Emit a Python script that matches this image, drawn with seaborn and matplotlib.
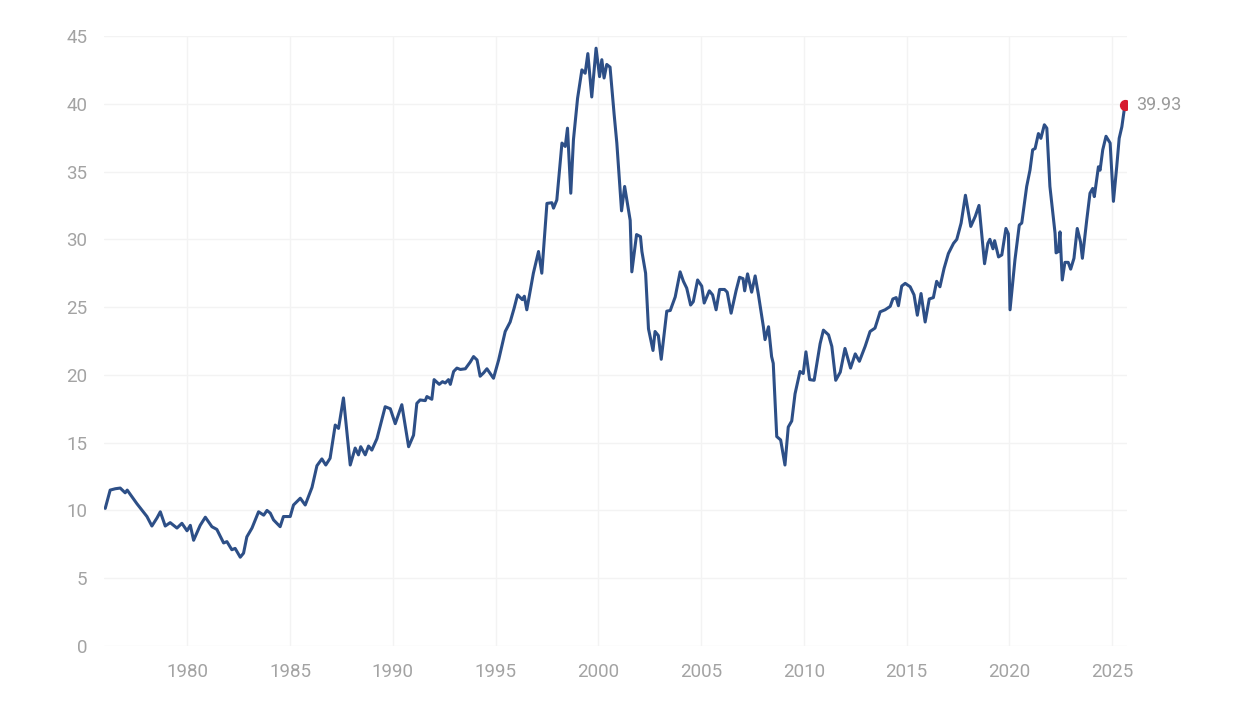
import matplotlib
matplotlib.use("Agg")
import matplotlib.pyplot as plt
import seaborn as sns
import pandas as pd

# values (decimal year, ratio)
years = [
    1976.01, 1976.25, 1976.5, 1976.74, 1976.98, 1977.08, 1977.55, 1978.04, 1978.28, 1978.53,
    1978.69, 1978.93, 1979.17, 1979.5, 1979.74, 1979.99, 1980.15, 1980.31, 1980.63, 1980.88,
    1981.2, 1981.44, 1981.77, 1981.93, 1982.17, 1982.33, 1982.58, 1982.74, 1982.9, 1983.15,
    1983.47, 1983.72, 1983.88, 1984.04, 1984.2, 1984.52, 1984.68, 1985.01, 1985.17, 1985.5,
    1985.74, 1986.07, 1986.31, 1986.55, 1986.74, 1986.95, 1987.2, 1987.36, 1987.6, 1987.93,
    1988.17, 1988.33, 1988.44, 1988.66, 1988.82, 1988.98, 1989.23, 1989.63, 1989.88, 1990.12,
    1990.44, 1990.77, 1991.01, 1991.17, 1991.33, 1991.58, 1991.66, 1991.9, 1992.01, 1992.26,
    1992.42, 1992.55, 1992.71, 1992.8, 1992.96, 1993.12, 1993.29, 1993.53, 1993.77, 1993.93,
    1994.1, 1994.25, 1994.42, 1994.58, 1994.9, 1995.15, 1995.47, 1995.71, 1995.9, 1996.07,
    1996.3, 1996.4, 1996.52, 1996.84, 1997.09, 1997.25, 1997.5, 1997.74, 1997.82, 1997.98,
    1998.23, 1998.39, 1998.5, 1998.66, 1998.79, 1998.99, 1999.2, 1999.36, 1999.49, 1999.68,
    1999.89, 2000.06, 2000.17, 2000.28, 2000.41, 2000.57, 2000.77, 2000.9, 2001.13, 2001.28,
    2001.55, 2001.63, 2001.86, 2002.05, 2002.12, 2002.3, 2002.44, 2002.66, 2002.76, 2002.92,
    2003.06, 2003.33, 2003.5, 2003.74, 2003.98, 2004.14, 2004.3, 2004.49, 2004.62, 2004.83,
    2005.03, 2005.15, 2005.4, 2005.56, 2005.73, 2005.9, 2006.14, 2006.27, 2006.46, 2006.7,
    2006.87, 2007.04, 2007.12, 2007.26, 2007.46, 2007.63, 2007.79, 2008.03, 2008.11, 2008.28,
    2008.43, 2008.51, 2008.68, 2008.87, 2009.08, 2009.24, 2009.41, 2009.57, 2009.81, 2009.97,
    2010.1, 2010.28, 2010.5, 2010.79, 2010.95, 2011.2, 2011.36, 2011.55, 2011.77, 2012.0,
    2012.27, 2012.5, 2012.7, 2012.98, 2013.22, 2013.46, 2013.71, 2013.95, 2014.2, 2014.33,
    2014.49, 2014.6, 2014.76, 2014.93, 2015.17, 2015.36, 2015.52, 2015.7, 2015.9, 2016.1,
    2016.3, 2016.46, 2016.62, 2016.82, 2017.03, 2017.28, 2017.44, 2017.65, 2017.86, 2018.12,
    2018.34, 2018.52, 2018.79, 2018.95, 2019.05, 2019.2, 2019.28, 2019.47, 2019.63, 2019.83,
    2019.95, 2020.03, 2020.27, 2020.48, 2020.6, 2020.84, 2021.0, 2021.13, 2021.25, 2021.41,
    2021.53, 2021.7, 2021.82, 2021.97, 2022.22, 2022.27, 2022.38, 2022.46, 2022.57, 2022.7,
    2022.86, 2022.98, 2023.14, 2023.3, 2023.46, 2023.55, 2023.76, 2023.92, 2024.05, 2024.13,
    2024.33, 2024.41, 2024.54, 2024.7, 2024.9, 2025.06, 2025.22, 2025.34, 2025.47, 2025.62,
]
values = [
    10.15, 11.5, 11.6, 11.65, 11.3, 11.5, 10.5, 9.55, 8.85, 9.45,
    9.9, 8.85, 9.1, 8.7, 9.05, 8.5, 8.9, 7.8, 8.9, 9.5,
    8.8, 8.6, 7.6, 7.7, 7.1, 7.2, 6.55, 6.85, 8.05, 8.7,
    9.9, 9.65, 10.0, 9.8, 9.3, 8.8, 9.55, 9.55, 10.4, 10.9,
    10.4, 11.7, 13.3, 13.8, 13.35, 13.85, 16.3, 16.05, 18.3, 13.35,
    14.6, 14.1, 14.7, 14.1, 14.75, 14.45, 15.3, 17.65, 17.5, 16.4,
    17.8, 14.7, 15.55, 17.9, 18.15, 18.1, 18.4, 18.2, 19.65, 19.3,
    19.5, 19.4, 19.65, 19.3, 20.25, 20.5, 20.4, 20.45, 20.95, 21.35,
    21.1, 19.9, 20.15, 20.45, 19.75, 21.1, 23.2, 23.9, 24.9, 25.9,
    25.55, 25.8, 24.8, 27.5, 29.1, 27.5, 32.65, 32.7, 32.3, 32.9,
    37.1, 36.85, 38.2, 33.4, 37.35, 40.4, 42.5, 42.25, 43.7, 40.5,
    44.1, 42.0, 43.25, 41.9, 42.9, 42.7, 39.2, 37.1, 32.1, 33.9,
    31.4, 27.6, 30.35, 30.2, 29.1, 27.5, 23.4, 21.8, 23.2, 22.9,
    21.15, 24.7, 24.75, 25.75, 27.6, 26.9, 26.4, 25.15, 25.4, 27.0,
    26.55, 25.3, 26.2, 25.9, 24.8, 26.3, 26.3, 26.1, 24.55, 26.2,
    27.2, 27.1, 26.2, 27.45, 26.1, 27.3, 25.9, 23.55, 22.6, 23.55,
    21.35, 20.85, 15.45, 15.2, 13.35, 16.15, 16.6, 18.6, 20.25, 20.1,
    21.7, 19.65, 19.6, 22.3, 23.3, 22.95, 22.1, 19.6, 20.2, 21.95,
    20.5, 21.55, 21.0, 22.1, 23.2, 23.45, 24.65, 24.8, 25.05, 25.6,
    25.7, 25.1, 26.55, 26.75, 26.5, 25.9, 24.4, 26.0, 23.9, 25.6,
    25.7, 26.9, 26.5, 27.85, 28.95, 29.7, 30.0, 31.2, 33.25, 30.95,
    31.7, 32.5, 28.2, 29.7, 30.0, 29.3, 29.9, 28.7, 28.85, 30.8,
    30.4, 24.8, 28.5, 31.05, 31.2, 33.9, 35.1, 36.6, 36.7, 37.8,
    37.45, 38.45, 38.2, 33.9, 30.45, 29.0, 29.1, 30.55, 27.0, 28.3,
    28.3, 27.8, 28.6, 30.8, 29.8, 28.6, 31.4, 33.4, 33.75, 33.15,
    35.35, 35.1, 36.6, 37.6, 37.1, 32.8, 35.35, 37.45, 38.3, 39.93,
]
x_ticks = [1980, 1985, 1990, 1995, 2000, 2005, 2010, 2015, 2020, 2025]
y_ticks = [0, 5, 10, 15, 20, 25, 30, 35, 40, 45]

df = pd.DataFrame({"year": years, "ratio": values})

sns.set_style("white")
plt.rcParams["font.family"] = ["Liberation Sans Narrow", "Roboto", "DejaVu Sans"]

fig = plt.figure(figsize=(12.38, 7.04), dpi=100)
ax = fig.add_axes([0.084, 0.0824, 0.826, 0.8665])

sns.lineplot(data=df, x="year", y="ratio", ax=ax, color="#2d4f87", linewidth=2.2)

# highlight the latest value
last = df.iloc[-1]
ax.scatter([last["year"]], [last["ratio"]], s=50, color="#d7192e", zorder=5)
ax.annotate(f"{last['ratio']:.2f}", (last["year"], last["ratio"]),
            xytext=(8, 0), textcoords="offset points", va="center",
            fontsize=13, color="#9a9a9a")

ax.set_xlim(1975.95, 2025.7)
ax.set_ylim(0, 45)
ax.set_xticks(x_ticks)
ax.set_yticks(y_ticks)
ax.grid(True, color="#f3f3f3", linewidth=1.0)
ax.set_axisbelow(True)
ax.tick_params(axis="both", length=0, labelsize=13.5, labelcolor="#a3a3a3")
ax.tick_params(axis="y", pad=12)
ax.tick_params(axis="x", pad=12)
ax.set_xlabel("")
ax.set_ylabel("")
for s in ax.spines.values():
    s.set_visible(False)

fig.savefig("out.png", dpi=100, facecolor="white")
